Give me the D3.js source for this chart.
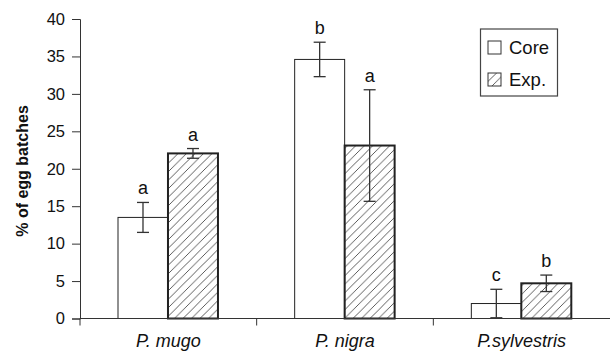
<!DOCTYPE html>
<html><head><meta charset="utf-8">
<script src="https://cdn.jsdelivr.net/npm/d3@7"></script>
<style>body{margin:0;background:#fff}svg{display:block}text{font-family:"Liberation Sans",Arial,sans-serif;fill:#111}</style>
</head><body><svg id="c" width="611" height="352"></svg>
<script>
const categories = ["P. mugo", "P. nigra", "P.sylvestris"];
const seriesNames = ["Core", "Exp."];
const coreValues = [13.5, 34.6, 2.0];
const coreErrors = [2.0, 2.3, 1.9];
const expValues = [22.05, 23.1, 4.7];
const expErrors = [0.65, 7.45, 1.1];
const coreLetters = ["a", "b", "c"];
const expLetters = ["a", "a", "b"];
const yTicks = [0, 5, 10, 15, 20, 25, 30, 35, 40];

const svg = d3.select("#c");
const x = d3.scaleBand().domain(categories).range([80, 610]).padding(0);
const sub = d3.scaleBand().domain(seriesNames).range([38, x.bandwidth() - 38.7]).padding(0);
const y = d3.scaleLinear().domain([0, 40]).range([318.5, 19]);

const defs = svg.append("defs");
const pat = defs.append("pattern").attr("id", "hatch").attr("patternUnits", "userSpaceOnUse")
  .attr("width", 8.5).attr("height", 8.5);
pat.append("path").attr("d", "M-2,2 L2,-2 M0,8.5 L8.5,0 M6.5,10.5 L10.5,6.5")
  .attr("stroke", "#333").attr("stroke-width", 0.8);

const data = [];
categories.forEach((c, i) => {
  data.push({cat: c, s: "Core", v: coreValues[i], e: coreErrors[i], l: coreLetters[i]});
  data.push({cat: c, s: "Exp.", v: expValues[i], e: expErrors[i], l: expLetters[i]});
});

// bars
const g = svg.append("g");
g.selectAll("rect.bar").data(data).join("rect")
  .attr("x", d => x(d.cat) + sub(d.s))
  .attr("y", d => y(d.v))
  .attr("width", sub.bandwidth())
  .attr("height", d => y(0) - y(d.v))
  .attr("fill", d => d.s === "Core" ? "#fff" : "url(#hatch)")
  .attr("stroke", "#222")
  .attr("stroke-width", d => d.s === "Core" ? 1 : 2);

// error bars
const cx = d => x(d.cat) + sub(d.s) + sub.bandwidth() / 2;
const eb = g.selectAll("g.err").data(data).join("g").attr("stroke", "#333").attr("stroke-width", 1.3);
eb.append("line").attr("x1", cx).attr("x2", cx).attr("y1", d => y(d.v + d.e)).attr("y2", d => y(Math.max(0, d.v - d.e)));
eb.append("line").attr("x1", d => cx(d) - 6).attr("x2", d => cx(d) + 6).attr("y1", d => y(d.v + d.e)).attr("y2", d => y(d.v + d.e));
eb.append("line").attr("x1", d => cx(d) - 6).attr("x2", d => cx(d) + 6).attr("y1", d => y(d.v - d.e)).attr("y2", d => y(d.v - d.e));

// letters
g.selectAll("text.let").data(data).join("text")
  .attr("x", cx).attr("y", d => y(d.v + d.e) - 8)
  .attr("text-anchor", "middle").attr("font-size", 18).text(d => d.l);

// y axis
const yAxis = svg.append("g").attr("transform", "translate(80,0)")
  .call(d3.axisLeft(y).tickValues(yTicks).tickSize(8).tickPadding(7));
yAxis.select(".domain").attr("stroke", "#333");
yAxis.selectAll(".tick line").attr("stroke", "#333");
yAxis.selectAll("text").attr("font-size", 16.5).attr("fill", "#111");

// x axis
const xAxisG = svg.append("g");
xAxisG.append("line").attr("x1", 80).attr("x2", 610).attr("y1", y(0)).attr("y2", y(0)).attr("stroke", "#333");
xAxisG.selectAll("line.tk").data(categories).join("line")
  .attr("x1", d => x(d)).attr("x2", d => x(d)).attr("y1", y(0)).attr("y2", y(0) + 7).attr("stroke", "#333");
xAxisG.selectAll("text").data(categories).join("text")
  .attr("x", d => x(d) + x.bandwidth() / 2).attr("y", 347)
  .attr("text-anchor", "middle").attr("font-size", 18).attr("font-style", "italic").text(d => d);

// y title
svg.append("text").attr("transform", "translate(28,171) rotate(-90)")
  .attr("text-anchor", "middle").attr("font-size", 16).attr("font-weight", "bold").text("% of egg batches");

// legend
const lg = svg.append("g");
lg.append("rect").attr("x", 480.5).attr("y", 29).attr("width", 77).attr("height", 67)
  .attr("fill", "#fff").attr("stroke", "#444").attr("stroke-width", 1.2);
seriesNames.forEach((s, i) => {
  const yy = 41 + i * 32;
  lg.append("rect").attr("x", 488).attr("y", yy).attr("width", 13).attr("height", 13)
    .attr("fill", s === "Core" ? "#fff" : "url(#hatch)").attr("stroke", "#333").attr("stroke-width", 1);
  lg.append("text").attr("x", 509).attr("y", yy + 13).attr("font-size", 18.5).text(s);
});
</script></body></html>
